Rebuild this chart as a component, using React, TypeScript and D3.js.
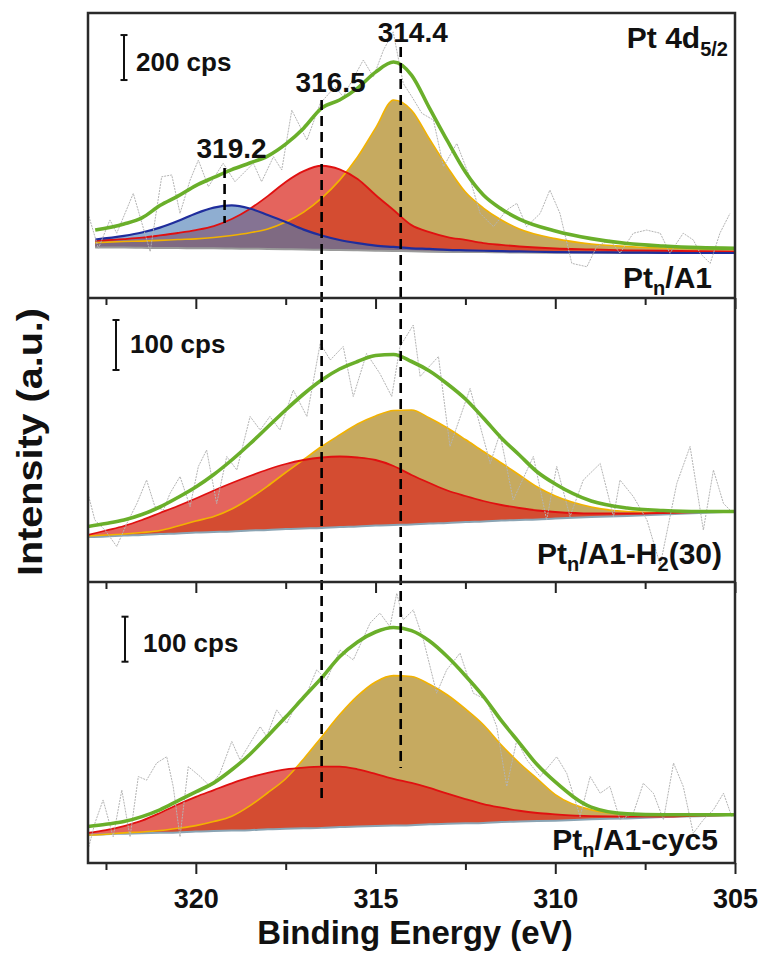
import React, { useEffect, useRef } from 'react';
import * as d3 from 'd3';

// ---------- DATA (binding energy in eV, intensity in cps) ----------
// Fitted curves, top panel (Pt_n/A1)
const fitEnergyTop = [322.8, 322, 321.5, 321, 320.5, 320, 319.5, 319, 318.5, 318, 317.5, 317, 316.5, 316, 315.5, 315, 314.5, 314, 313.5, 313, 312.5, 312, 311.5, 311, 310, 309, 308, 307, 306, 305];
const baselineTop = [224, 224, 223, 222, 222, 221, 221, 220, 219, 218, 217, 216, 214, 213, 212, 210, 209, 208, 206, 205, 204, 204, 203, 202, 201, 201, 200, 200, 200, 200];
const peak319Top = [260, 276, 291, 313, 342, 376, 402, 412, 398, 369, 338, 304, 278, 258, 244, 233, 227, 221, 218, 214, 212, 210, 208, 207, 204, 203, 202, 201, 200, 200];
const peak316Top = [255, 262, 268, 278, 289, 302, 320, 351, 396, 453, 516, 564, 588, 572, 529, 458, 391, 324, 293, 271, 258, 244, 236, 229, 220, 216, 212, 210, 208, 206];
const peak314Top = [246, 251, 253, 256, 260, 263, 269, 278, 290, 307, 338, 382, 444, 524, 627, 755, 880, 835, 707, 582, 471, 400, 347, 307, 264, 240, 229, 222, 219, 216];
const envelopeTop = [302, 329, 356, 411, 453, 500, 536, 571, 600, 631, 684, 755, 844, 880, 933, 1004, 1049, 991, 844, 698, 560, 458, 396, 351, 298, 264, 242, 231, 224, 221];

// Fitted curves, middle and bottom panels
const fitEnergy = [323, 322.5, 322, 321.5, 321, 320.5, 320, 319.5, 319, 318.5, 318, 317.5, 317, 316.5, 316, 315.5, 315, 314.5, 314, 313.5, 313, 312.5, 312, 311.5, 311, 310.5, 310, 309, 308, 307, 306, 305];
const baselineH2 = [90, 91, 93, 94, 96, 97, 99, 100, 101, 103, 104, 106, 107, 108, 110, 111, 113, 114, 115, 117, 118, 120, 121, 123, 124, 125, 127, 130, 132, 135, 138, 141];
const peak316H2 = [94, 103, 112, 124, 138, 152, 167, 183, 198, 212, 225, 236, 244, 249, 251, 249, 244, 232, 214, 198, 183, 172, 162, 154, 148, 143, 140, 137, 137, 138, 140, 141];
const peak314H2 = [92, 94, 96, 99, 103, 112, 122, 131, 146, 167, 192, 219, 245, 271, 294, 316, 332, 343, 344, 328, 308, 285, 261, 238, 214, 190, 172, 150, 141, 139, 140, 141];
const envelopeH2 = [111, 117, 124, 135, 150, 169, 190, 215, 244, 276, 310, 344, 376, 404, 426, 441, 453, 455, 441, 422, 396, 366, 328, 288, 254, 220, 196, 162, 148, 143, 141, 141];

const baselineCyc = [62, 64, 65, 66, 67, 68, 70, 71, 72, 73, 75, 76, 77, 78, 80, 81, 82, 83, 84, 86, 87, 88, 89, 91, 92, 93, 94, 97, 99, 102, 104, 107];
const peak316Cyc = [67, 73, 82, 94, 111, 130, 147, 162, 177, 190, 200, 208, 212, 214, 214, 208, 198, 187, 178, 167, 154, 142, 131, 123, 116, 111, 108, 104, 103, 103, 105, 107];
const peak314Cyc = [62, 64, 67, 69, 72, 77, 83, 92, 104, 127, 156, 187, 231, 280, 329, 371, 402, 416, 414, 397, 373, 342, 307, 262, 222, 187, 152, 118, 108, 106, 106, 107];
const envelopeCyc = [81, 86, 92, 103, 118, 138, 158, 178, 207, 241, 282, 324, 368, 411, 458, 491, 513, 523, 516, 493, 458, 416, 370, 316, 267, 218, 180, 124, 109, 107, 107, 107];

// Raw spectra
const rawEnergyTop = [323.0, 322.71, 322.39, 322.2, 321.74, 321.27, 320.95, 320.67, 320.44, 320.16, 319.93, 319.65, 319.24, 318.91, 318.4, 318.17, 317.84, 317.61, 317.33, 316.91, 316.54, 316.13, 315.9, 315.34, 315.06, 314.78, 314.51, 314.23, 313.99, 313.71, 313.39, 313.11, 312.74, 312.42, 312.09, 311.72, 311.35, 311.07, 310.8, 310.42, 310.15, 309.87, 309.54, 309.12, 308.85, 308.48, 308.2, 307.83, 307.46, 307.08, 306.81, 306.44, 306.16, 305.97, 305.69, 305.42, 305.14];
const rawTop = [376, 221, 347, 288, 465, 206, 539, 547, 376, 524, 613, 495, 599, 517, 599, 517, 628, 569, 835, 702, 865, 939, 895, 1058, 983, 1102, 1183, 954, 895, 821, 791, 584, 687, 554, 376, 317, 391, 421, 317, 376, 480, 376, 154, 139, 228, 258, 199, 288, 302, 288, 199, 288, 258, 199, 154, 288, 376];

const rawEnergyH2 = [323.0, 322.81, 322.53, 322.2, 321.92, 321.64, 321.37, 321.14, 320.9, 320.72, 320.44, 320.16, 319.93, 319.7, 319.42, 319.14, 318.86, 318.49, 318.21, 317.94, 317.66, 317.29, 316.91, 316.54, 316.26, 315.9, 315.62, 315.25, 314.88, 314.55, 314.32, 313.95, 313.76, 313.25, 312.93, 312.37, 311.81, 311.54, 311.17, 310.61, 310.24, 309.96, 309.59, 309.22, 308.75, 308.38, 308.2, 307.83, 307.45, 307.08, 306.62, 306.25, 305.88, 305.6, 305.32, 305.14];
const rawH2 = [177, 124, 104, 71, 117, 157, 204, 151, 144, 177, 211, 151, 231, 264, 157, 251, 224, 331, 304, 331, 304, 384, 331, 477, 444, 471, 371, 457, 417, 371, 471, 514, 411, 451, 271, 387, 237, 297, 164, 251, 124, 231, 131, 204, 237, 131, 204, 171, 124, 34, 197, 271, 104, 224, 157, 144];

const rawEnergyCyc = [323.0, 322.81, 322.58, 322.3, 322.06, 321.83, 321.6, 321.37, 321.09, 320.81, 320.63, 320.44, 320.21, 319.88, 319.6, 319.33, 319.0, 318.77, 318.49, 318.21, 318.03, 317.75, 317.47, 317.19, 316.91, 316.64, 316.36, 315.99, 315.62, 315.15, 314.88, 314.6, 314.41, 314.23, 313.95, 313.67, 313.3, 313.02, 312.65, 312.28, 311.91, 311.63, 311.35, 311.07, 310.79, 310.42, 309.96, 309.68, 309.31, 309.03, 308.75, 308.48, 308.2, 307.83, 307.55, 307.27, 306.99, 306.71, 306.44, 306.16, 305.88, 305.6, 305.32, 305.09];
const rawCyc = [29, 88, 140, 58, 162, 58, 192, 184, 222, 236, 170, 58, 214, 192, 170, 199, 270, 229, 266, 303, 281, 340, 310, 355, 377, 429, 407, 473, 451, 533, 555, 525, 599, 540, 562, 496, 377, 429, 466, 377, 362, 303, 170, 273, 229, 192, 236, 199, 103, 192, 155, 170, 96, 110, 177, 155, 96, 222, 170, 66, 96, 118, 155, 103];

// Axis / annotation values
const majorTicks = [320, 315, 310, 305];
const minorTicks = [322.5, 317.5, 312.5, 307.5];
const peakLineEnergies = [319.2, 316.5, 314.3];
const peakLabels = ['319.2', '316.5', '314.4'];
const scaleBarBase = [969, 424, 447];
const scaleBarSize = [200, 100, 100];
const panelYMax = [1267, 568, 624];

// ---------- LAYOUT ----------
const W = 761;
const H = 954;
const LEFT = 88;
const RIGHT = 735;
const PANEL_TOP = [13, 298, 582];
const PANEL_BOTTOM = [298, 582, 863];
const FONT = "'Liberation Sans', Arial, Helvetica, sans-serif";
const BAR_X = [124, 116, 125];
const BAR_TEXT = [[136, 71], [130, 353], [143, 652]];
const DASH_Y = [[168, 223], [100, 798], [47, 768]];
const LABEL_POS = [[7, 158], [9, 92], [12, 42]];

const STYLE: Record<string, { fill: string; op: number; stroke: string; sw: number }> = {
  p314: { fill: '#c6aa60', op: 1, stroke: '#f2b200', sw: 1.6 },
  p316: { fill: 'rgb(218,40,30)', op: 0.72, stroke: '#e01010', sw: 1.8 },
  p319: { fill: 'rgb(75,125,180)', op: 0.62, stroke: '#1f2d9c', sw: 2.2 },
};

type Panel = {
  energy: number[];
  base: number[];
  comps: { key: string; vals: number[] }[];
  env: number[];
  rawE: number[];
  raw: number[];
  baseColor: string;
};

const panels: Panel[] = [
  {
    energy: fitEnergyTop, base: baselineTop,
    comps: [{ key: 'p314', vals: peak314Top }, { key: 'p316', vals: peak316Top }, { key: 'p319', vals: peak319Top }],
    env: envelopeTop, rawE: rawEnergyTop, raw: rawTop, baseColor: '#9a9a9a',
  },
  {
    energy: fitEnergy, base: baselineH2,
    comps: [{ key: 'p314', vals: peak314H2 }, { key: 'p316', vals: peak316H2 }],
    env: envelopeH2, rawE: rawEnergyH2, raw: rawH2, baseColor: '#8aa4b4',
  },
  {
    energy: fitEnergy, base: baselineCyc,
    comps: [{ key: 'p314', vals: peak314Cyc }, { key: 'p316', vals: peak316Cyc }],
    env: envelopeCyc, rawE: rawEnergyCyc, raw: rawCyc, baseColor: '#8aa4b4',
  },
];

export default function App() {
  const x = d3.scaleLinear().domain([323, 305]).range([LEFT, RIGHT]);
  const majorRefs = [useRef<SVGGElement>(null), useRef<SVGGElement>(null), useRef<SVGGElement>(null)];
  const minorRefs = [useRef<SVGGElement>(null), useRef<SVGGElement>(null), useRef<SVGGElement>(null)];

  useEffect(() => {
    [0, 1, 2].forEach((i) => {
      const gMaj = d3.select(majorRefs[i].current as SVGGElement);
      gMaj.selectAll('*').remove();
      gMaj.call(
        d3.axisBottom(x).tickValues(majorTicks).tickSize(11).tickPadding(15)
          .tickFormat((d) => (i === 2 ? d3.format('d')(d as number) : ''))
      );
      gMaj.select('.domain').remove();
      gMaj.selectAll('.tick line').attr('stroke', '#222').attr('stroke-width', 2);
      gMaj.selectAll('.tick text')
        .attr('font-family', FONT).attr('font-weight', 700).attr('font-size', 27).attr('fill', '#111');
      const gMin = d3.select(minorRefs[i].current as SVGGElement);
      gMin.selectAll('*').remove();
      gMin.call(d3.axisBottom(x).tickValues(minorTicks).tickSize(7).tickFormat(() => ''));
      gMin.select('.domain').remove();
      gMin.selectAll('.tick line').attr('stroke', '#222').attr('stroke-width', 2);
    });
  }, []);

  return (
    <svg width={W} height={H} style={{ position: 'absolute', left: 0, top: 0, background: '#fff' }}>
      <defs>
        {panels.map((_, i) => (
          <clipPath id={`clip${i}`} key={i}>
            <rect x={LEFT} y={PANEL_TOP[i]} width={RIGHT - LEFT} height={PANEL_BOTTOM[i] - PANEL_TOP[i]} />
          </clipPath>
        ))}
      </defs>

      {panels.map((p, i) => {
        const y = d3.scaleLinear().domain([0, panelYMax[i]]).range([PANEL_BOTTOM[i], PANEL_TOP[i]]);
        const area = d3.area<number>()
          .x((_, j) => x(p.energy[j]))
          .y0((_, j) => y(p.base[j]))
          .y1((d) => y(d))
          .curve(d3.curveMonotoneX);
        const line = d3.line<number>()
          .x((_, j) => x(p.energy[j]))
          .y((d) => y(d))
          .curve(d3.curveMonotoneX);
        const rawLine = d3.line<number>().x((_, j) => x(p.rawE[j])).y((d) => y(d));
        const b0 = y(scaleBarBase[i]);
        const b1 = y(scaleBarBase[i] + scaleBarSize[i]);
        return (
          <g key={i}>
            <g clipPath={`url(#clip${i})`}>
              {p.comps.map((c) => (
                <path key={'f' + c.key} d={area(c.vals) || ''} fill={STYLE[c.key].fill} fillOpacity={STYLE[c.key].op} />
              ))}
              <path d={line(p.base) || ''} fill="none" stroke={p.baseColor} strokeWidth={2} />
              {p.comps.map((c) => (
                <path key={'l' + c.key} d={line(c.vals) || ''} fill="none" stroke={STYLE[c.key].stroke} strokeWidth={STYLE[c.key].sw} />
              ))}
              <path d={rawLine(p.raw) || ''} fill="none" stroke="#b4b4b4" strokeWidth={1} strokeDasharray="2,1" />
              <path d={line(p.env) || ''} fill="none" stroke="#6aaf2a" strokeWidth={3.6} strokeLinejoin="round" />
            </g>
            <g>
              <line x1={BAR_X[i]} x2={BAR_X[i]} y1={b0} y2={b1} stroke="#111" strokeWidth={2} />
              <line x1={BAR_X[i] - 3.5} x2={BAR_X[i] + 3.5} y1={b0} y2={b0} stroke="#111" strokeWidth={2} />
              <line x1={BAR_X[i] - 3.5} x2={BAR_X[i] + 3.5} y1={b1} y2={b1} stroke="#111" strokeWidth={2} />
              <text x={BAR_TEXT[i][0]} y={BAR_TEXT[i][1]} fontFamily={FONT} fontWeight={700} fontSize={26} fill="#111">
                {`${scaleBarSize[i]} cps`}
              </text>
            </g>
            <g ref={majorRefs[i]} transform={`translate(0,${PANEL_BOTTOM[i]})`} />
            <g ref={minorRefs[i]} transform={`translate(0,${PANEL_BOTTOM[i]})`} />
          </g>
        );
      })}

      {/* peak position dashed lines */}
      {peakLineEnergies.map((e, k) => (
        <line key={'d' + k} x1={x(e)} x2={x(e)} y1={DASH_Y[k][0]} y2={DASH_Y[k][1]}
          stroke="#000" strokeWidth={2.6} strokeDasharray="10,6" />
      ))}
      {peakLabels.map((t, k) => (
        <text key={'t' + k} x={x(peakLineEnergies[k]) + LABEL_POS[k][0]} y={LABEL_POS[k][1]} textAnchor="middle"
          fontFamily={FONT} fontWeight={700} fontSize={28} fill="#111">{t}</text>
      ))}

      {/* panel frames */}
      <rect x={LEFT} y={PANEL_TOP[0]} width={RIGHT - LEFT} height={PANEL_BOTTOM[2] - PANEL_TOP[0]} fill="none" stroke="#2a2a2a" strokeWidth={2.5} />
      <line x1={LEFT} x2={RIGHT} y1={PANEL_BOTTOM[0]} y2={PANEL_BOTTOM[0]} stroke="#2a2a2a" strokeWidth={2.5} />
      <line x1={LEFT} x2={RIGHT} y1={PANEL_BOTTOM[1]} y2={PANEL_BOTTOM[1]} stroke="#2a2a2a" strokeWidth={2.5} />

      {/* panel labels */}
      <text x={728} y={48} textAnchor="end" fontFamily={FONT} fontWeight={700} fontSize={30} fill="#111">
        Pt 4d<tspan fontSize={20} dy={8}>5/2</tspan>
      </text>
      <text x={712} y={288} textAnchor="end" fontFamily={FONT} fontWeight={700} fontSize={30} fill="#111">
        Pt<tspan fontSize={20} dy={7}>n</tspan><tspan dy={-7}>/A1</tspan>
      </text>
      <text x={722} y={564} textAnchor="end" fontFamily={FONT} fontWeight={700} fontSize={30} fill="#111">
        Pt<tspan fontSize={20} dy={7}>n</tspan><tspan dy={-7}>/A1-H</tspan><tspan fontSize={20} dy={7}>2</tspan><tspan dy={-7}>(30)</tspan>
      </text>
      <text x={718} y={850} textAnchor="end" fontFamily={FONT} fontWeight={700} fontSize={30} fill="#111">
        Pt<tspan fontSize={20} dy={7}>n</tspan><tspan dy={-7}>/A1-cyc5</tspan>
      </text>

      {/* axis titles */}
      <text x={415} y={944} textAnchor="middle" fontFamily={FONT} fontWeight={700} fontSize={33} fill="#111">
        Binding Energy (eV)
      </text>
      <text transform="translate(42,442) rotate(-90)" textAnchor="middle" fontFamily={FONT} fontWeight={700}
        fontSize={35} fill="#111" textLength={268} lengthAdjust="spacingAndGlyphs">
        Intensity (a.u.)
      </text>
    </svg>
  );
}
